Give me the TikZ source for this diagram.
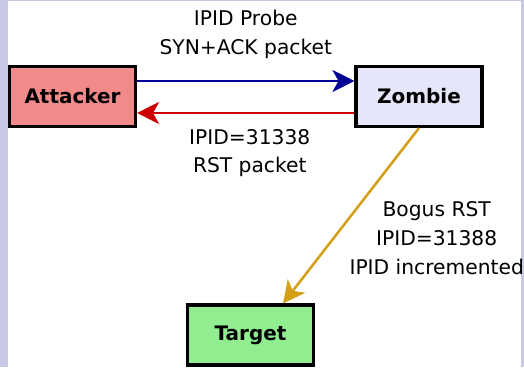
\documentclass[tikz,border=0pt]{standalone}
\usepackage{fontspec}
\setmainfont{DejaVu Sans}
\usetikzlibrary{positioning,arrows.meta}
\definecolor{bglav}{RGB}{200,200,230}
\definecolor{attackred}{RGB}{242,138,138}
\definecolor{zombielav}{RGB}{230,230,250}
\definecolor{targetgreen}{RGB}{144,238,144}
\definecolor{probeblue}{RGB}{0,0,150}
\definecolor{rstred}{RGB}{204,0,0}
\definecolor{bogusgold}{RGB}{212,160,23}
\begin{document}
\begin{tikzpicture}[
    host/.style={draw, line width=2.2pt, minimum width=3.15cm, minimum height=1.5cm,
        font=\fontsize{14.2}{17}\selectfont\bfseries},
    msg/.style={line width=1.8pt, -{Stealth[length=0.55cm,width=0.55cm,inset=0.15cm]}},
    lbl/.style={align=center, inner sep=0pt, text=black, font=\fontsize{14.4}{20.5}\selectfont}
]
\useasboundingbox (0,0) rectangle (13.1,9.175);
\fill[bglav] (0,0) rectangle (13.1,9.175);
\fill[white] (0.2,0) rectangle (13.025,9.15);

\node[host, fill=attackred] (attacker) at (1.8125,6.7625) {Attacker};
\node[host, fill=zombielav] (zombie) at (10.475,6.7625) {Zombie};
\node[host, fill=targetgreen] (target) at (6.2625,0.8) {Target};

\draw[msg, probeblue] ([yshift=0.3875cm]attacker.east)
    -- node[lbl, above=0.53cm]{IPID Probe\\SYN+ACK packet} ([yshift=0.3875cm]zombie.west);
\draw[msg, rstred] ([yshift=-0.4125cm]zombie.west)
    -- node[lbl, below=0.37cm, xshift=0.1cm]{IPID=31338\\RST packet} ([yshift=-0.4125cm]attacker.east);
\draw[msg, bogusgold] (zombie.south)
    -- node[lbl, pos=0.626, right=0.36cm]{Bogus RST\\IPID=31388\\IPID incremented} ([xshift=0.8125cm]target.north);

\end{tikzpicture}
\end{document}
